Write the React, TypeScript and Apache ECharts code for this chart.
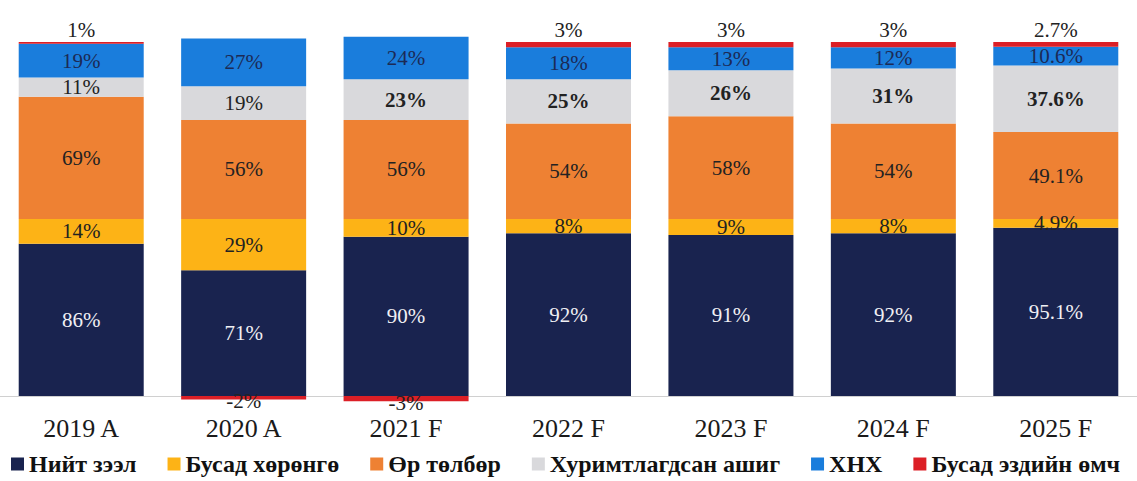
import React, { useEffect, useRef } from "react";
import * as echarts from "echarts";

const categories = ["2019 A", "2020 A", "2021 F", "2022 F", "2023 F", "2024 F", "2025 F"];
const totalLoans = [86, 71, 90, 92, 91, 92, 95.1];
const otherAssets = [14, 29, 10, 8, 9, 8, 4.9];
const liabilities = [69, 56, 56, 54, 58, 54, 49.1];
const retainedEarnings = [11, 19, 23, 25, 26, 31, 37.6];
const paidInCapital = [19, 27, 24, 18, 13, 12, 10.6];
const otherEquity = [1, -2, -3, 3, 3, 3, 2.7];

const seriesNames = ["Нийт зээл", "Бусад хөрөнгө", "Өр төлбөр", "Хуримтлагдсан ашиг", "ХНХ", "Бусад эздийн өмч"];
const colors = ["#19234f", "#fdb316", "#ee8133", "#d9d9dc", "#1a7ddc", "#dc1f26"];

const FONT = "Liberation Serif";

export default function App() {
  const ref = useRef<HTMLDivElement>(null);
  useEffect(() => {
    if (!ref.current) return;
    const chart = echarts.init(ref.current, null, { renderer: "svg" });
    const fmt = (p: any) => `${p.value}%`;
    const baseLabel = {
      show: true,
      position: "inside",
      formatter: fmt,
      fontFamily: FONT,
      fontSize: 21,
      color: "#222",
    };
    const datasets = [totalLoans, otherAssets, liabilities, retainedEarnings, paidInCapital, otherEquity];
    const series = datasets.map((arr, si) => {
      const data = arr.map((v, i) => {
        if (si === 5) {
          return {
            value: v,
            label: {
              show: true,
              position: v < 0 ? "bottom" : "top",
              distance: v < 0 ? -9 : 2,
              formatter: fmt,
              fontFamily: FONT,
              fontSize: 21,
              color: "#222",
            },
          };
        }
        if (si === 3 && i >= 2) {
          return { value: v, label: { fontWeight: "bold" } };
        }
        return v;
      });
      return {
        name: seriesNames[si],
        type: "bar",
        stack: "total",
        barWidth: 125,
        itemStyle: { color: colors[si] },
        label: { ...baseLabel, color: si === 0 ? "#f0f0f4" : si === 4 ? "#1c2a55" : "#222" },
        data,
      };
    });
    chart.setOption({
      animation: false,
      textStyle: { fontFamily: FONT },
      grid: { left: -3, right: -7, top: 24.3, bottom: 67.3, containLabel: false },
      legend: {
        left: 6,
        top: 447,
        width: 1131,
        padding: [5, 0, 5, 5],
        icon: "rect",
        itemWidth: 13,
        itemHeight: 13,
        itemGap: 31,
        textStyle: { fontFamily: FONT, fontSize: 24, fontWeight: "bold", color: "#111" },
        data: seriesNames,
      },
      xAxis: {
        type: "category",
        data: categories,
        axisTick: { show: false },
        axisLine: { onZero: true, lineStyle: { color: "#d0d0d0", width: 1 } },
        axisLabel: { fontFamily: FONT, fontSize: 26, color: "#1a1a1a", margin: 2 },
      },
      yAxis: {
        type: "value",
        min: -10,
        max: 210,
        show: false,
        splitLine: { show: false },
      },
      series,
    });
    return () => chart.dispose();
  }, []);
  return <div ref={ref} style={{ width: 1137, height: 481, position: "absolute", left: 0, top: 0, background: "#fff" }} />;
}
